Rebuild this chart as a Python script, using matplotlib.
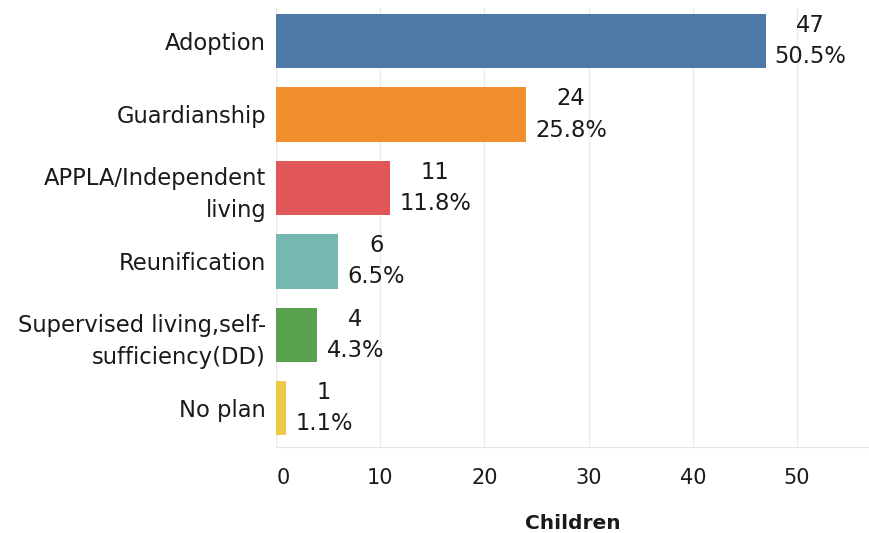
import matplotlib.pyplot as plt
import matplotlib.transforms as mtransforms

plt.rcParams['font.family'] = ['DejaVu Sans']

# --- Data ---
categories = ["Adoption", "Guardianship", "APPLA/Independent\nliving", "Reunification",
              "Supervised living,self-\nsufficiency(DD)", "No plan"]
counts = [47, 24, 11, 6, 4, 1]
percents = ["50.5%", "25.8%", "11.8%", "6.5%", "4.3%", "1.1%"]
colors = ["#4e79a7", "#f28e2b", "#e15759", "#76b7b2", "#59a14f", "#edc948"]
xticks = [0, 10, 20, 30, 40, 50]

FS = 16.3
TXT = '#1a1a1a'

fig = plt.figure(figsize=(8.7, 5.33), dpi=100)
ax = fig.add_axes([0.317, 0.161, 0.683, 0.824])

ypos = list(range(len(categories)))
ax.barh(ypos, counts, height=0.74, color=colors, zorder=3)

for y, c, p in zip(ypos, counts, percents):
    ax.annotate(f"{c}\n{p}", xy=(c, y), xytext=(6.5, 0), textcoords='offset points',
                ha='left', va='center', multialignment='center',
                fontsize=FS, color=TXT, linespacing=1.45, zorder=4)

ax.set_yticks(ypos)
ax.set_yticklabels(categories, fontsize=FS, color=TXT, linespacing=1.5)
ax.set_ylim(5.53, -0.45)
ax.set_xlim(0, 57)
ax.set_xticks(xticks)
ax.set_xticklabels([str(t) for t in xticks], fontsize=15, color=TXT)
ax.tick_params(axis='both', length=0)
ax.tick_params(axis='x', pad=15)
ax.tick_params(axis='y', pad=7)

# the "0" label sits a little right of its gridline
first = ax.get_xticklabels()[0]
first.set_transform(first.get_transform() + mtransforms.ScaledTranslation(7 / 100, 0, fig.dpi_scale_trans))

ax.grid(axis='x', color='#ebebeb', linewidth=1, zorder=0)
for s in ['top', 'right', 'left']:
    ax.spines[s].set_visible(False)
ax.spines['bottom'].set_color('#e6e6e6')
ax.axvline(0, color='#e6e6e6', linewidth=1, zorder=1)

ax.set_xlabel("Children", fontsize=14.5, fontweight='bold', color=TXT, labelpad=19)

fig.savefig("out.png", dpi=100)
